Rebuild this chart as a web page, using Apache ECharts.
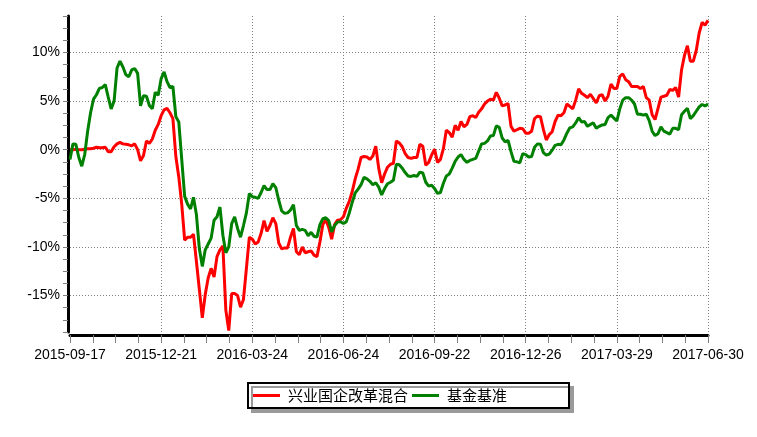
<!DOCTYPE html>
<html>
<head>
<meta charset="utf-8">
<script src="https://cdn.jsdelivr.net/npm/echarts@6/dist/echarts.min.js"></script>
<style>
html,body{margin:0;padding:0;background:#fff;}
#chart{width:757px;height:437px;}
</style>
</head>
<body>
<div id="chart"></div>
<script>
// tick labels (one every 31 sampled points = 62 trading days)
const xTickLabels = ['2015-09-17','2015-12-21','2016-03-24','2016-06-24','2016-09-22','2016-12-26','2017-03-29','2017-06-30'];
const yGridValues = [-15, -10, -5, 0, 5, 10];
const seriesNames = ['兴业国企改革混合', '基金基准'];

// cumulative return (%), sampled every 2 trading days
const redValues = [0,0,0.05,0,0,0.05,0.1,0.1,0.15,0.25,
0.2,0.2,0.25,-0.2,-0.2,0.3,0.6,0.75,0.6,0.55,
0.5,0.4,0.6,0.0,-1.15,-0.6,0.9,0.65,1.1,2.0,
2.6,3.5,4.1,4.25,3.8,3.2,-0.7,-2.8,-5.6,-9.3,
-9.0,-9.0,-8.7,-11.5,-14.4,-17.3,-14.9,-13.2,-12.2,-13.1,
-11.0,-10.3,-9.9,-16.5,-18.6,-14.8,-14.8,-15.0,-16.2,-15.4,
-12.2,-9.0,-9.2,-9.7,-9.5,-8.6,-7.3,-8.4,-7.8,-7.0,
-7.6,-9.6,-10.2,-10.1,-10.1,-9.0,-8.1,-10.5,-10.8,-10.0,
-10.6,-10.5,-10.4,-10.85,-11.0,-9.5,-7.7,-7.2,-8.0,-9.2,
-7.7,-7.25,-7.2,-6.9,-6.0,-5.3,-4.3,-3.0,-2.0,-0.8,
-0.7,-0.75,-1.0,-0.65,0.35,-1.9,-3.4,-2.5,-1.8,-1.5,
-1.4,0.9,0.7,0.3,-0.4,-0.8,-0.9,-0.8,-0.8,0.55,
0.35,-1.6,-1.3,-0.55,0.05,-1.3,-1.0,0.1,2.0,1.75,
1.3,2.5,2.0,2.9,2.35,2.6,3.4,3.5,3.3,3.85,
4.2,4.7,5.0,5.2,5.1,5.9,5.3,4.5,4.6,4.75,
2.4,1.9,2.05,2.2,2.15,1.7,1.7,1.9,3.2,3.45,
3.4,2.1,1.0,1.55,1.85,2.9,3.55,3.5,3.8,4.7,
4.45,4.2,5.1,6.25,5.8,5.6,5.35,5.7,5.25,4.8,
5.55,5.65,5.0,5.5,6.75,6.3,6.3,7.55,7.8,7.2,
7.0,6.5,6.5,6.5,6.3,6.5,5.35,5.1,3.6,3.1,
4.25,5.4,5.5,5.6,6.2,6.1,6.4,5.4,8.2,9.7,
10.7,9.1,9.1,10.2,12.0,13.1,12.8,13.3];

const greenValues = [-1.0,0.6,0.55,-0.8,-1.7,-0.5,1.9,3.8,5.2,5.65,
6.3,6.4,6.7,5.4,4.2,5.0,8.4,9.1,8.5,7.7,
7.5,8.2,8.35,7.85,4.5,5.55,5.5,4.55,4.2,5.9,
5.6,7.3,8.0,7.0,6.4,6.5,3.4,2.85,-1.0,-4.8,
-5.6,-6.1,-4.9,-6.7,-10.2,-12.0,-10.3,-9.7,-9.1,-7.25,
-6.9,-5.9,-8.8,-10.6,-10.0,-7.6,-6.9,-8.1,-9.0,-7.8,
-6.5,-4.5,-4.85,-4.9,-5.0,-4.4,-3.7,-4.1,-4.1,-3.5,
-3.9,-5.2,-6.3,-6.55,-6.5,-6.2,-5.65,-7.8,-8.3,-8.2,
-8.3,-8.85,-8.5,-8.9,-9.0,-7.7,-7.1,-7.0,-7.3,-8.45,
-7.8,-7.45,-7.4,-7.6,-7.4,-6.5,-5.4,-4.45,-4.05,-3.6,
-2.85,-3.0,-3.25,-3.6,-3.4,-3.85,-4.65,-4.0,-3.5,-3.35,
-3.15,-1.5,-1.55,-1.9,-2.35,-2.7,-2.75,-2.65,-2.75,-2.3,
-2.4,-3.35,-3.75,-3.65,-4.0,-4.5,-4.4,-3.45,-2.7,-2.5,
-1.9,-1.2,-0.75,-0.5,-1.0,-1.3,-1.1,-1.0,-0.9,-0.15,
0.6,0.65,0.9,1.4,1.45,2.45,2.3,1.2,0.8,0.95,
-0.2,-1.2,-1.25,-1.35,-0.4,-0.5,-0.75,-0.7,0.25,0.6,
0.55,-0.3,-0.55,-0.45,-0.05,0.45,0.55,0.5,1.0,1.7,
2.25,2.35,2.75,3.3,2.85,2.9,2.4,2.6,2.75,2.2,
2.4,2.55,2.6,3.3,3.55,3.25,2.95,4.2,5.1,5.35,
5.35,5.1,4.7,3.65,3.65,3.55,3.65,3.0,1.9,1.45,
1.65,2.35,1.9,1.75,1.6,2.2,2.2,2.05,3.6,3.95,
4.25,3.2,3.5,3.95,4.4,4.65,4.5,4.7];

const PER_LABEL = 31;
const lastIdx = PER_LABEL * (xTickLabels.length - 1);

const chart = echarts.init(document.getElementById('chart'), null, {renderer: 'canvas'});
const axisFont = "'Liberation Sans', Arial, sans-serif";
const gridStyle = {color: '#808080', width: 1, type: [1, 2]};

chart.setOption({
  animation: false,
  backgroundColor: '#ffffff',
  grid: {left: 70, right: 49, top: 16, bottom: 105},
  legend: {
    data: seriesNames,
    left: 248, top: 383,
    orient: 'horizontal',
    icon: 'rect', itemWidth: 27, itemHeight: 3, itemGap: 4,
    padding: [5, 62, 5, 5],
    backgroundColor: '#ffffff',
    borderColor: '#000000', borderWidth: 2, borderRadius: 0,
    shadowColor: '#9a9a9a', shadowOffsetX: 4, shadowOffsetY: 4, shadowBlur: 0,
    textStyle: {fontFamily: "'Noto Sans CJK SC', sans-serif", fontSize: 15, color: '#000', padding: [0, 0, 0, 3]}
  },
  xAxis: {
    type: 'value', min: 0, max: lastIdx, interval: PER_LABEL, offset: 3,
    axisLine: {show: true, onZero: false, lineStyle: {color: '#000', width: 3}},
    axisTick: {show: true, length: 8, lineStyle: {color: '#808080', width: 1}},
    minorTick: {show: true, splitNumber: 4, length: 8, lineStyle: {color: '#808080', width: 1}},
    splitLine: {show: true, showMinLine: false, showMaxLine: true, lineStyle: gridStyle},
    axisLabel: {
      color: '#000', fontFamily: axisFont, fontSize: 14, margin: 13,
      formatter: v => xTickLabels[Math.round(v / PER_LABEL)] || ''
    }
  },
  yAxis: {
    type: 'value', min: -18.75, max: 13.75, interval: 1.25, offset: 2,
    axisLine: {show: true, onZero: false, lineStyle: {color: '#000', width: 3}},
    axisTick: {show: true, length: 5, lineStyle: {color: '#808080', width: 1}},
    splitLine: {show: false},
    axisLabel: {
      color: '#000', fontFamily: axisFont, fontSize: 14, margin: 8,
      formatter: v => {
        const r = Math.round(v * 100) / 100;
        return Math.abs(r % 5) < 1e-6 ? (r + '%') : '';
      }
    }
  },
  series: [
    {
      name: 'grid', type: 'line', data: [], z: 1, silent: true,
      markLine: {
        silent: true, symbol: 'none', z: 1, animation: false,
        label: {show: false},
        lineStyle: gridStyle,
        data: yGridValues.map(v => ({yAxis: v}))
      }
    },
    {
      name: seriesNames[0], type: 'line', showSymbol: false, symbol: 'none',
      color: '#ff0000',
      lineStyle: {color: '#ff0000', width: 3},
      data: redValues.map((v, i) => [i, v]), z: 3
    },
    {
      name: seriesNames[1], type: 'line', showSymbol: false, symbol: 'none',
      color: '#008000',
      lineStyle: {color: '#008000', width: 3},
      data: greenValues.map((v, i) => [i, v]), z: 3
    }
  ]
});
</script>
</body>
</html>
